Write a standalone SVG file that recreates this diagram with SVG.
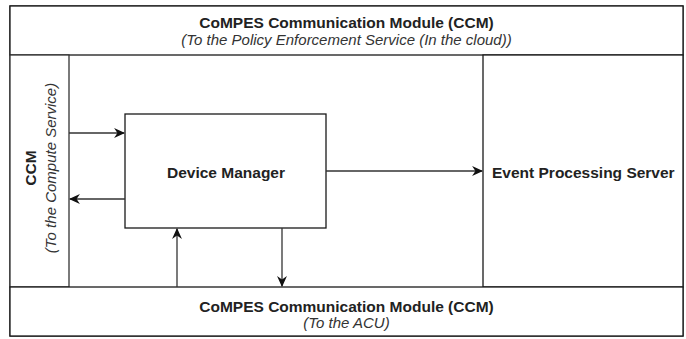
<svg xmlns="http://www.w3.org/2000/svg" width="686" height="339" viewBox="0 0 686 339">
  <style>
    .frame { fill: #ffffff; stroke: #1a1a1a; stroke-width: 1.3; }
    .inner { fill: #ffffff; stroke: #333333; stroke-width: 1.3; }
    .wire { fill: none; stroke: #333333; stroke-width: 1.3; }
    .title { font-family: "Liberation Sans", Arial, sans-serif; font-size: 15.5px; font-weight: bold; fill: #222222; }
    .sub { font-family: "Liberation Sans", Arial, sans-serif; font-size: 15px; font-style: italic; fill: #333333; }
  </style>
  <defs>
    <marker id="arrow" viewBox="0 0 10 10" refX="9" refY="5" markerWidth="11" markerHeight="11" markerUnits="userSpaceOnUse" orient="auto">
      <path d="M0,0.5 L10,5 L0,9.5 L3,5 Z" fill="#111111"/>
    </marker>
  </defs>
  <rect width="686" height="339" fill="#ffffff"/>

  <g id="frame">
    <rect class="frame" x="10" y="6" width="673" height="330"/>
  </g>

  <g id="ccm-cloud">
    <rect class="frame" x="10" y="6" width="673" height="49"/>
    <text class="title" x="346.5" y="28" text-anchor="middle">CoMPES Communication Module (CCM)</text>
    <text class="sub" x="346.5" y="45" text-anchor="middle">(To the Policy Enforcement Service (In the cloud))</text>
  </g>

  <g id="ccm-compute">
    <rect class="inner" x="10" y="55" width="59" height="232"/>
    <text class="title" transform="translate(36,168) rotate(-90)" text-anchor="middle">CCM</text>
    <text class="sub" transform="translate(56,168) rotate(-90)" text-anchor="middle">(To the Compute Service)</text>
  </g>

  <g id="event-processing">
    <rect class="frame" x="483" y="55" width="200" height="232"/>
    <text class="title" x="492" y="178">Event Processing Server</text>
  </g>

  <g id="ccm-acu">
    <rect class="frame" x="10" y="287" width="673" height="49"/>
    <text class="title" x="346.5" y="312" text-anchor="middle">CoMPES Communication Module (CCM)</text>
    <text class="sub" x="346.5" y="328" text-anchor="middle">(To the ACU)</text>
  </g>

  <g id="device-manager">
    <rect class="frame" x="125" y="114" width="201" height="114"/>
    <text class="title" x="226" y="178" text-anchor="middle">Device Manager</text>
  </g>

  <g id="connectors">
    <path class="wire" d="M69,133 H124" marker-end="url(#arrow)"/>
    <path class="wire" d="M125,199 H70" marker-end="url(#arrow)"/>
    <path class="wire" d="M177,287 V229" marker-end="url(#arrow)"/>
    <path class="wire" d="M282,228 V286" marker-end="url(#arrow)"/>
    <path class="wire" d="M326,171 H482" marker-end="url(#arrow)" stroke="#111111"/>
  </g>
</svg>
